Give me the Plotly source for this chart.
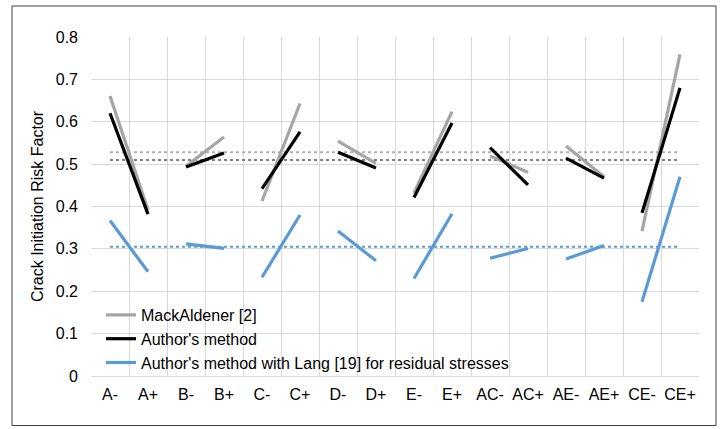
import plotly.graph_objects as go

categories = ["A-", "A+", "B-", "B+", "C-", "C+", "D-", "D+",
              "E-", "E+", "AC-", "AC+", "AE-", "AE+", "CE-", "CE+"]

mackaldener = [0.661, 0.392, 0.495, 0.564, 0.413, 0.643, 0.554, 0.502,
               0.432, 0.624, 0.519, 0.481, 0.543, 0.470, 0.342, 0.759]
authors = [0.620, 0.382, 0.493, 0.526, 0.442, 0.576, 0.528, 0.491,
           0.421, 0.597, 0.539, 0.451, 0.514, 0.467, 0.385, 0.680]
authors_lang = [0.367, 0.246, 0.312, 0.301, 0.233, 0.380, 0.342, 0.272,
                0.230, 0.383, 0.278, 0.301, 0.276, 0.308, 0.175, 0.470]

avg_mackaldener = 0.528
avg_authors = 0.510
avg_authors_lang = 0.305

series_names = ["MackAldener [2]", "Author's method",
                "Author's method with Lang [19] for residual stresses"]
series_colors = ["#A5A5A5", "#000000", "#5B9BD5"]
avg_colors = ["#B0B0B0", "#7F7F7F", "#5B9BD5"]


def paired(vals):
    xs, ys = [], []
    for i in range(0, len(categories), 2):
        xs += [categories[i], categories[i + 1], None]
        ys += [vals[i], vals[i + 1], None]
    return xs, ys


fig = go.Figure()

for avg, col in zip([avg_mackaldener, avg_authors, avg_authors_lang], avg_colors):
    fig.add_trace(go.Scatter(
        x=[categories[0], categories[-1]], y=[avg, avg], mode="lines",
        line=dict(color=col, width=2, dash="dot"), showlegend=False,
        hoverinfo="skip"))

for name, vals, col in zip(series_names, [mackaldener, authors, authors_lang], series_colors):
    xs, ys = paired(vals)
    fig.add_trace(go.Scatter(
        x=xs, y=ys, mode="lines", name=name,
        line=dict(color=col, width=3.2), connectgaps=False))

L, R, T, B = 91, 699, 37, 376
W, H = R - L, B - T
FS = 16

fig.update_layout(
    width=723, height=429,
    margin=dict(l=L, r=723 - R, t=T, b=429 - B),
    paper_bgcolor="white", plot_bgcolor="white",
    font=dict(family="Liberation Sans", size=FS, color="#000000"),
    showlegend=True,
    legend=dict(x=(101 - L) / W, y=(B - 380) / H, xanchor="left", yanchor="bottom",
                bgcolor="rgba(0,0,0,0)", font=dict(family="Liberation Sans", size=FS),
                tracegroupgap=0, itemwidth=30),
    xaxis=dict(
        type="category", categoryorder="array", categoryarray=categories,
        range=[-0.5, len(categories) - 0.5],
        tickson="boundaries", ticks="", tickangle=0, automargin=False,
        showgrid=True, gridcolor="#D9D9D9", gridwidth=1,
        showline=True, linecolor="#D9D9D9", linewidth=1,
        tickfont=dict(family="Liberation Sans", size=FS), ticklabelstandoff=4,
    ),
    yaxis=dict(
        range=[0, 0.8], dtick=0.1, tick0=0, automargin=False,
        showgrid=True, gridcolor="#D9D9D9", gridwidth=1,
        zeroline=False, showline=False, ticks="",
        tickfont=dict(family="Liberation Sans", size=FS), ticklabelstandoff=12,
        title=dict(text="Crack Initiation Risk Factor",
                   font=dict(family="Liberation Sans", size=FS), standoff=8),
    ),
    shapes=[dict(type="rect", xref="paper", yref="paper",
                 x0=(12 - L) / W, x1=(716 - L) / W,
                 y0=(B - 425.5) / H, y1=(B - 6) / H,
                 line=dict(color="#404040", width=1), fillcolor="rgba(0,0,0,0)",
                 layer="below")],
)

fig.write_html("out.html")
